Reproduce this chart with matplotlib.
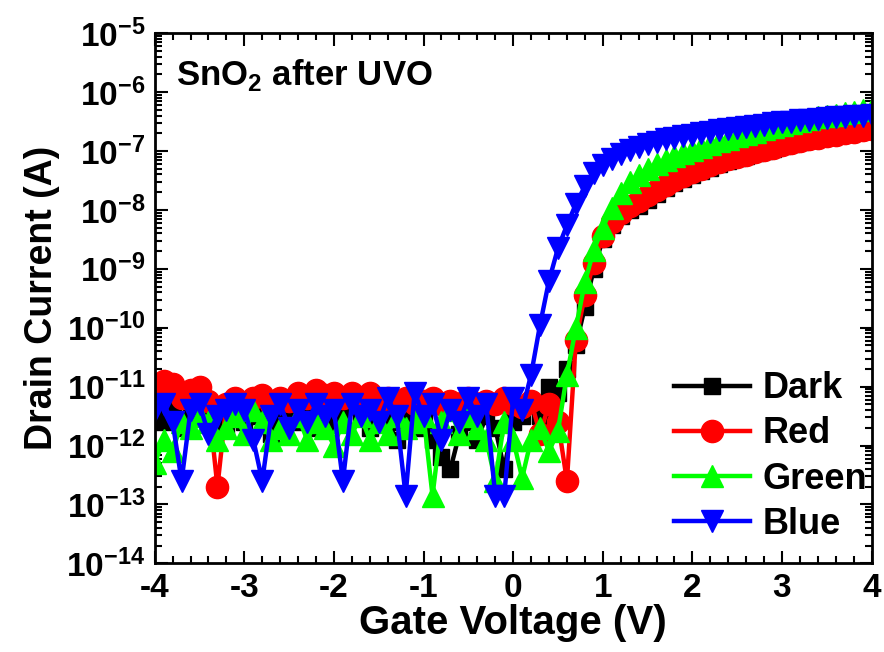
import numpy as np
import matplotlib
matplotlib.use("Agg")
import matplotlib.pyplot as plt
from matplotlib.ticker import FuncFormatter, MultipleLocator, LogLocator, NullFormatter

plt.rcParams['font.family'] = ['Liberation Sans', 'DejaVu Sans']
plt.rcParams['font.weight'] = 'bold'
plt.rcParams['mathtext.fontset'] = 'custom'
plt.rcParams['mathtext.rm'] = 'Liberation Sans:bold'
plt.rcParams['mathtext.bf'] = 'Liberation Sans:bold'
plt.rcParams['axes.unicode_minus'] = False

# gate voltage sweep, -4 V .. 4 V in 0.1 V steps
vg = np.linspace(-4, 4, 81)

# log10 of drain current
dark_log = [
    -11.5, -11.6, -11.4, -11.7, -11.5, -11.4, -11.6, -11.5, -11.7, -11.4,
    -11.6, -11.5, -11.4, -11.8, -11.5, -11.4, -11.6, -11.5, -11.7, -11.4,
    -11.6, -11.5, -11.3, -11.5, -11.7, -11.4, -11.6, -11.9, -11.5, -11.7,
    -11.6, -11.9, -12.2, -12.4, -11.8, -11.6, -11.9, -11.5, -11.7, -12.4,
    -11.6, -11.5, -11.3, -11.5, -11.0, -11.1, -10.7, -10.3, -9.65, -9.0,
    -8.5, -8.25, -8.1, -8.0, -7.93, -7.83, -7.73, -7.63, -7.55, -7.47,
    -7.40, -7.34, -7.28, -7.22, -7.17, -7.12, -7.08, -7.04, -7.0, -6.96,
    -6.92, -6.88, -6.84, -6.81, -6.78, -6.75, -6.72, -6.70, -6.67, -6.65,
    -6.62]
red_log = [
    -10.95, -10.9, -10.95, -11.2, -11.05, -11.0, -11.25, -12.7, -11.3, -11.2,
    -11.35, -11.2, -11.15, -11.3, -11.2, -11.25, -11.1, -11.2, -11.05, -11.15,
    -11.1, -11.2, -11.1, -11.2, -11.1, -11.25, -11.2, -11.3, -11.2, -11.3,
    -11.25, -11.2, -11.3, -11.25, -11.3, -11.2, -11.3, -11.25, -11.3, -11.2,
    -11.3, -11.35, -11.25, -11.8, -11.3, -11.6, -12.6, -10.2, -9.45, -8.9,
    -8.45, -8.2, -8.05, -7.93, -7.85, -7.75, -7.66, -7.57, -7.49, -7.42,
    -7.35, -7.30, -7.24, -7.19, -7.14, -7.10, -7.06, -7.02, -6.98, -6.94,
    -6.90, -6.86, -6.83, -6.80, -6.77, -6.74, -6.72, -6.69, -6.67, -6.64,
    -6.62]
green_log = [
    -12.3, -11.9, -12.1, -11.6, -11.7, -11.5, -11.6, -11.9, -11.7, -11.5,
    -11.8, -11.4, -11.6, -11.9, -11.7, -11.8, -11.5, -11.9, -11.6, -11.7,
    -12.0, -11.6, -11.8, -11.5, -11.9, -11.6, -11.8, -11.5, -11.7, -11.6,
    -11.5, -12.85, -11.6, -11.4, -11.8, -11.5, -11.7, -11.9, -12.6, -11.6,
    -11.9, -12.55, -11.9, -11.7, -12.1, -11.75, -10.8, -10.0, -9.23, -8.68,
    -8.3, -7.97, -7.72, -7.52, -7.40, -7.30, -7.22, -7.15, -7.09, -7.03,
    -6.98, -6.93, -6.88, -6.83, -6.79, -6.75, -6.71, -6.67, -6.63, -6.59,
    -6.56, -6.52, -6.49, -6.46, -6.43, -6.41, -6.38, -6.36, -6.34, -6.31,
    -6.28]
blue_log = [
    -11.4, -11.3, -11.6, -12.6, -11.4, -11.3, -11.8, -11.5, -11.4, -11.3,
    -11.4, -11.9, -12.6, -11.5, -11.3, -11.7, -11.4, -11.6, -11.3, -11.5,
    -11.4, -12.6, -11.3, -11.5, -11.4, -11.6, -11.2, -11.5, -12.85, -11.1,
    -11.5, -11.3, -11.9, -11.4, -11.6, -11.2, -11.5, -11.3, -12.85, -12.85,
    -11.2, -11.4, -10.8, -9.95, -9.2, -8.65, -8.26, -7.9, -7.6, -7.38,
    -7.24, -7.13, -7.05, -6.98, -6.93, -6.88, -6.84, -6.80, -6.77, -6.74,
    -6.72, -6.70, -6.67, -6.65, -6.63, -6.61, -6.59, -6.57, -6.55, -6.53,
    -6.51, -6.50, -6.48, -6.47, -6.46, -6.44, -6.43, -6.42, -6.41, -6.40,
    -6.39]

labels = ["Dark", "Red", "Green", "Blue"]
colors = ["#000000", "#ff0000", "#00ff00", "#0000ff"]
markers = ["s", "o", "^", "v"]
msizes = [11, 16, 16, 16]

fig = plt.figure(figsize=(8.84, 6.52), dpi=100)
ax = fig.add_axes([0.175, 0.136, 0.811, 0.813])

for data, lab, c, m, ms in zip([dark_log, red_log, green_log, blue_log],
                               labels, colors, markers, msizes):
    ax.semilogy(vg, 10.0 ** np.array(data), color=c, marker=m, markersize=ms,
                lw=3.2, label=lab)

ax.set_xlim(-4, 4)
ax.set_ylim(1e-14, 1e-5)

ax.xaxis.set_major_locator(MultipleLocator(1))
ax.xaxis.set_minor_locator(MultipleLocator(0.2))
ax.yaxis.set_major_locator(LogLocator(base=10, numticks=20))
ax.yaxis.set_minor_locator(LogLocator(base=10, subs=np.arange(2, 10), numticks=20))
ax.yaxis.set_minor_formatter(NullFormatter())
ax.yaxis.set_major_formatter(FuncFormatter(lambda v, p: r'$\mathbf{10^{%d}}$' % round(np.log10(v))))

ax.tick_params(which='both', direction='in', top=True, right=True, width=1.5)
ax.tick_params(which='major', length=9, labelsize=24, pad=7)
ax.tick_params(which='minor', length=5)
for s in ax.spines.values():
    s.set_linewidth(2)

ax.set_xlabel("Gate Voltage (V)", fontsize=29, fontweight='bold', labelpad=0)
ax.set_ylabel("Drain Current (A)", fontsize=27, fontweight='bold', labelpad=4)

ax.text(0.03, 0.955, r"SnO$_\mathbf{2}$ after UVO", transform=ax.transAxes,
        fontsize=25, fontweight='bold', va='top', ha='left')

ax.legend(loc='lower right', bbox_to_anchor=(1.024, 0.0), frameon=False,
          fontsize=26, handlelength=2.1, handletextpad=0.35,
          labelspacing=0.28, borderaxespad=0.2)

fig.savefig("out.png", dpi=100)
